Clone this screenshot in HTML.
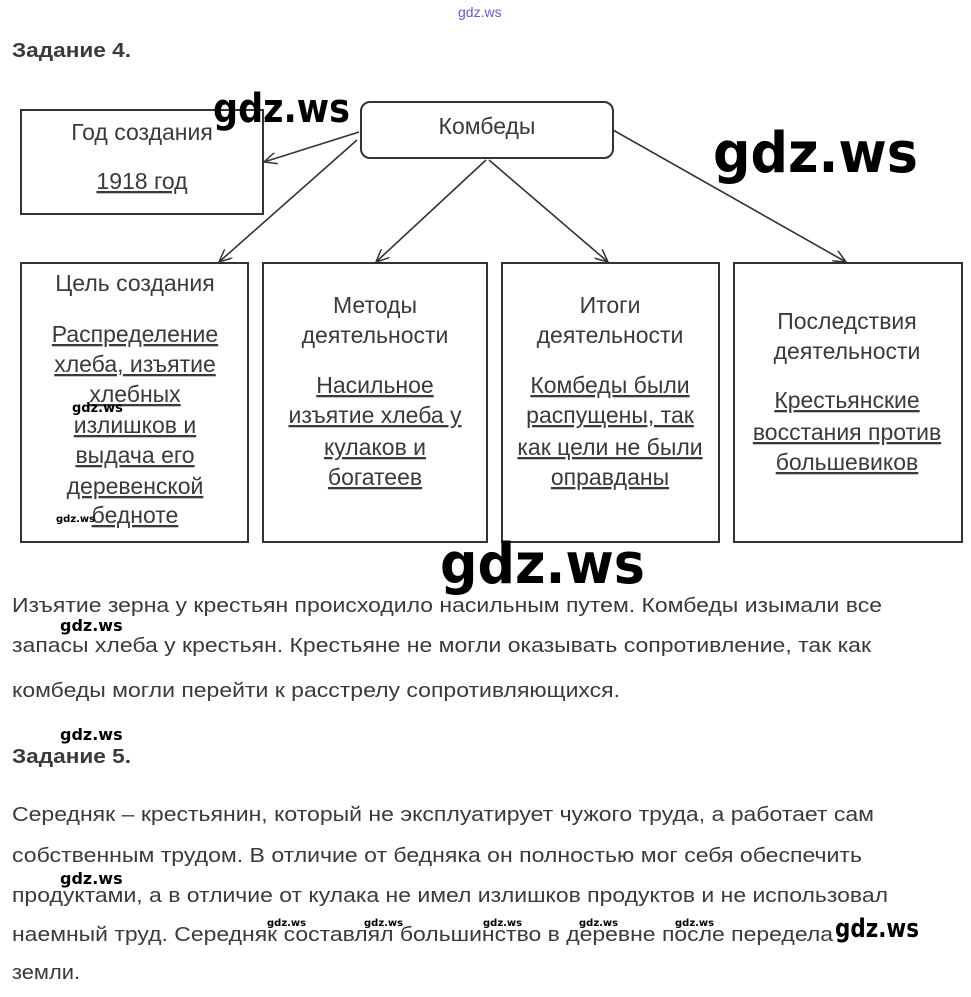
<!DOCTYPE html>
<html><head><meta charset="utf-8"><style>
html,body{margin:0;padding:0;background:#fff}
svg{display:block}
text{font-family:"Liberation Sans",Arial,sans-serif;fill:#3a3a3a}
.c{text-anchor:middle;font-size:23px}
.u{text-decoration:underline}
.p{font-size:20px}
.b{font-weight:bold;font-size:20px}
.w{font-family:"DejaVu Sans","Liberation Sans",sans-serif;fill:#000;font-weight:bold}
</style></head><body>
<svg width="971" height="997" viewBox="0 0 971 997" xmlns="http://www.w3.org/2000/svg">
<defs><marker id="a" markerWidth="14" markerHeight="12" refX="13" refY="6" orient="auto" markerUnits="userSpaceOnUse"><path d="M0,0 L13,6 L0,12" fill="none" stroke="#333" stroke-width="1.5"/></marker></defs>
<text x="458" y="17" style="font-size:14px;fill:#6060d0">gdz.ws</text>
<text x="12" y="57" class="b" textLength="119" lengthAdjust="spacingAndGlyphs">Задание 4.</text>

<g fill="none" stroke="#333" stroke-width="2">
<rect x="21" y="110" width="242" height="104"/>
<rect x="361" y="102" width="252" height="56" rx="9"/>
<rect x="21" y="263" width="227" height="279"/>
<rect x="263" y="263" width="224" height="279"/>
<rect x="502" y="263" width="217" height="279"/>
<rect x="734" y="263" width="228" height="279"/>
</g>
<g stroke="#333" stroke-width="1.6" marker-end="url(#a)">
<line x1="359" y1="132" x2="264" y2="162"/>
<line x1="357" y1="140" x2="219" y2="262"/>
<line x1="486" y1="160" x2="376" y2="262"/>
<line x1="489" y1="160" x2="608" y2="262"/>
<line x1="613" y1="130" x2="846" y2="262"/>
</g>

<text x="142" y="140" class="c">Год создания</text>
<text x="142" y="189" class="c u">1918 год</text>
<text x="487" y="134" class="c">Комбеды</text>

<text x="135" y="291" class="c">Цель создания</text>
<text x="135" y="342" class="c u">Распределение</text>
<text x="135" y="372" class="c u">хлеба, изъятие</text>
<text x="135" y="402" class="c u">хлебных</text>
<text x="135" y="433" class="c u">излишков и</text>
<text x="135" y="463" class="c u">выдача его</text>
<text x="135" y="494" class="c u">деревенской</text>
<text x="135" y="523" class="c u">бедноте</text>

<text x="375" y="313" class="c">Методы</text>
<text x="375" y="343" class="c">деятельности</text>
<text x="375" y="393" class="c u">Насильное</text>
<text x="375" y="423" class="c u">изъятие хлеба у</text>
<text x="375" y="455" class="c u">кулаков и</text>
<text x="375" y="485" class="c u">богатеев</text>

<text x="610" y="313" class="c">Итоги</text>
<text x="610" y="343" class="c">деятельности</text>
<text x="610" y="393" class="c u">Комбеды были</text>
<text x="610" y="423" class="c u">распущены, так</text>
<text x="610" y="455" class="c u">как цели не были</text>
<text x="610" y="485" class="c u">оправданы</text>

<text x="847" y="329" class="c">Последствия</text>
<text x="847" y="359" class="c">деятельности</text>
<text x="847" y="408" class="c u">Крестьянские</text>
<text x="847" y="440" class="c u">восстания против</text>
<text x="847" y="470" class="c u">большевиков</text>

<text x="12" y="612" class="p" textLength="870" lengthAdjust="spacingAndGlyphs">Изъятие зерна у крестьян происходило насильным путем. Комбеды изымали все</text>
<text x="12" y="652" class="p" textLength="859" lengthAdjust="spacingAndGlyphs">запасы хлеба у крестьян. Крестьяне не могли оказывать сопротивление, так как</text>
<text x="12" y="697" class="p" textLength="608" lengthAdjust="spacingAndGlyphs">комбеды могли перейти к расстрелу сопротивляющихся.</text>
<text x="12" y="763" class="b" textLength="119" lengthAdjust="spacingAndGlyphs">Задание 5.</text>
<text x="12" y="821" class="p" textLength="862" lengthAdjust="spacingAndGlyphs">Середняк – крестьянин, который не эксплуатирует чужого труда, а работает сам</text>
<text x="12" y="862" class="p" textLength="850" lengthAdjust="spacingAndGlyphs">собственным трудом. В отличие от бедняка он полностью мог себя обеспечить</text>
<text x="12" y="902" class="p" textLength="876" lengthAdjust="spacingAndGlyphs">продуктами, а в отличие от кулака не имел излишков продуктов и не использовал</text>
<text x="12" y="941" class="p" textLength="821" lengthAdjust="spacingAndGlyphs">наемный труд. Середняк составлял большинство в деревне после передела</text>
<text x="12" y="979" class="p" textLength="68" lengthAdjust="spacingAndGlyphs">земли.</text>

<text x="213" y="122" class="w" style="font-size:40px" textLength="137" lengthAdjust="spacingAndGlyphs">gdz.ws</text>
<text x="713" y="172" class="w" style="font-size:56px" textLength="205" lengthAdjust="spacingAndGlyphs">gdz.ws</text>
<text x="440" y="583" class="w" style="font-size:56px" textLength="205" lengthAdjust="spacingAndGlyphs">gdz.ws</text>
<text x="835" y="937" class="w" style="font-size:26px" textLength="84" lengthAdjust="spacingAndGlyphs">gdz.ws</text>
<text x="72" y="412" class="w" style="font-size:13px">gdz.ws</text>
<text x="56" y="522" class="w" style="font-size:10px">gdz.ws</text>
<text x="60" y="631" class="w" style="font-size:16px">gdz.ws</text>
<text x="60" y="740" class="w" style="font-size:16px">gdz.ws</text>
<text x="60" y="884" class="w" style="font-size:16px">gdz.ws</text>
<text x="267" y="926" class="w" style="font-size:10px">gdz.ws</text>
<text x="364" y="926" class="w" style="font-size:10px">gdz.ws</text>
<text x="483" y="926" class="w" style="font-size:10px">gdz.ws</text>
<text x="579" y="926" class="w" style="font-size:10px">gdz.ws</text>
<text x="675" y="926" class="w" style="font-size:10px">gdz.ws</text>
</svg>
</body></html>
